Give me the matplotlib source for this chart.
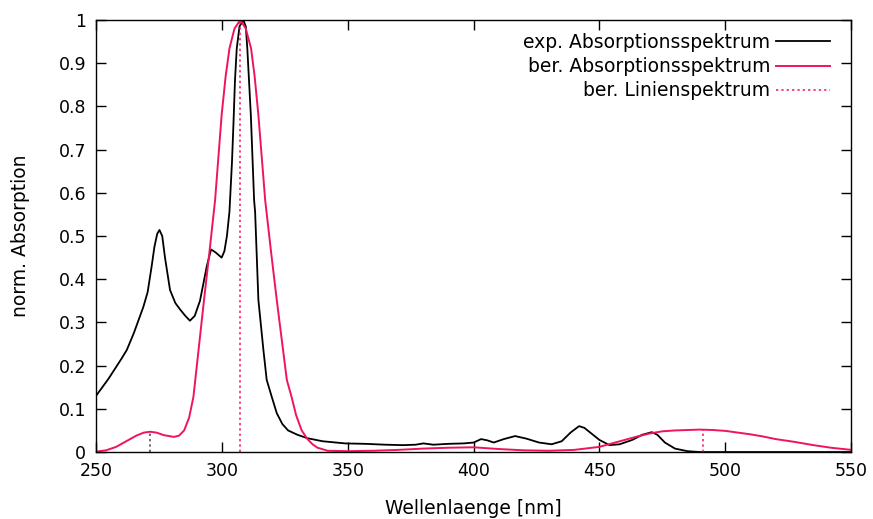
import numpy as np
import matplotlib
matplotlib.use("Agg")
import matplotlib.pyplot as plt

exp_nm = [250, 255, 260, 262.2, 265, 268.8, 270.5, 272.1, 273.2, 274.3, 275.2, 276.3,
          277.4, 279.4, 281.5, 283.4, 285.5, 287.3, 289.2, 291.3, 294, 295.7, 297.5,
          299.9, 301, 302, 303, 304, 304.6, 305.2, 305.9, 307, 308.5, 309.5, 310.1,
          311.5, 312.8, 313.2, 314.5, 316.5, 317.8, 319.8, 321.8, 324, 326.3, 330, 334,
          340, 349, 357, 365, 372, 377, 380, 384, 390, 396, 400, 403, 405.5, 408, 412,
          416.5, 421, 426, 431, 435, 438.5, 441.9, 444, 447, 450, 454, 458, 463, 467,
          470.8, 473, 476, 480, 485, 490, 550]
exp_abs = [0.13, 0.17, 0.215, 0.236, 0.275, 0.336, 0.37, 0.43, 0.475, 0.505, 0.514, 0.5,
           0.45, 0.375, 0.345, 0.33, 0.315, 0.304, 0.315, 0.35, 0.43, 0.469, 0.462,
           0.45, 0.465, 0.5, 0.556, 0.67, 0.76, 0.86, 0.934, 0.985, 1.0, 0.985, 0.934,
           0.78, 0.583, 0.556, 0.352, 0.236, 0.167, 0.128, 0.09, 0.065, 0.05, 0.04, 0.032,
           0.025, 0.02, 0.019, 0.017, 0.016, 0.017, 0.02, 0.017, 0.019, 0.02, 0.022, 0.03,
           0.027, 0.022, 0.03, 0.037, 0.031, 0.022, 0.018, 0.025, 0.045, 0.06, 0.056,
           0.042, 0.028, 0.016, 0.018, 0.028, 0.04, 0.046, 0.04, 0.022, 0.008, 0.002,
           0.0, 0.0]

# berechnetes Absorptionsspektrum
ber_nm = [250, 254, 258, 262, 266, 269, 271.5, 274, 277, 281, 283, 285, 287, 288.7,
          290.8, 292.9, 295, 297.3, 299.9, 301.5, 303, 305, 307.3, 309.5, 311.6, 313,
          314.5, 317.2, 319.5, 321.8, 324, 325.8, 327.8, 329.5, 331.7, 334, 336, 338,
          342, 350, 360, 370, 380, 390, 400, 410, 420, 430, 440, 450, 455, 460, 465,
          470, 475, 480, 485, 490, 495, 500, 505, 510, 515, 520, 527, 535, 542, 550]
ber_abs = [0.001, 0.004, 0.012, 0.025, 0.038, 0.045, 0.047, 0.045, 0.039, 0.035,
           0.038, 0.05, 0.08, 0.128, 0.24, 0.352, 0.46, 0.583, 0.78, 0.87, 0.934, 0.98,
           1.0, 0.98, 0.934, 0.87, 0.78, 0.583, 0.465, 0.352, 0.25, 0.167, 0.125,
           0.085, 0.05, 0.03, 0.018, 0.01, 0.003, 0.002, 0.003, 0.005, 0.008, 0.01,
           0.011, 0.007, 0.004, 0.003, 0.005, 0.012, 0.02, 0.028, 0.036, 0.043,
           0.048, 0.05, 0.051, 0.052, 0.051, 0.049, 0.045, 0.041, 0.036, 0.03,
           0.024, 0.016, 0.01, 0.005]

# berechnetes Linienspektrum
linie_nm = [271.5, 307.3, 491]
linie_abs = [0.047, 1.0, 0.052]
linie_col = ['#444444', '#f0145a', '#f0145a']

red = '#f0145a'

fig = plt.figure(figsize=(8.73, 5.19), dpi=100)
ax = fig.add_axes([0.110, 0.129, 0.865, 0.8325])

ax.plot(exp_nm, exp_abs, color='black', lw=1.3, label='exp. Absorptionsspektrum')
ax.plot(ber_nm, ber_abs, color=red, lw=1.4, label='ber. Absorptionsspektrum')
for i, (x, h) in enumerate(zip(linie_nm, linie_abs)):
    ax.vlines(x, 0, h, colors=linie_col[i], linestyles=(0, (1.5, 2)), lw=1.1,
              label='ber. Linienspektrum' if i == 1 else None)

ax.set_xlim(250, 550)
ax.set_ylim(0, 1)
ax.set_xticks(np.arange(250, 551, 50))
ax.set_yticks(np.arange(0, 1.01, 0.1))
ax.set_yticklabels(['0', '0.1', '0.2', '0.3', '0.4', '0.5', '0.6', '0.7', '0.8', '0.9', '1'])
ax.tick_params(direction='in', length=7, width=1, top=True, right=True, labelsize=12.5, pad=7)
for s in ax.spines.values():
    s.set_linewidth(1)

ax.set_xlabel('Wellenlaenge [nm]', fontsize=13.5, labelpad=14)
ax.set_ylabel('norm. Absorption', fontsize=13.5, labelpad=21)

ax.legend(loc='upper right', frameon=False, markerfirst=False, fontsize=13.5,
          handlelength=2.9, handletextpad=0.3, labelspacing=0.28,
          borderaxespad=0, borderpad=0, bbox_to_anchor=(0.972, 0.970))

fig.savefig('out.png', dpi=100)
